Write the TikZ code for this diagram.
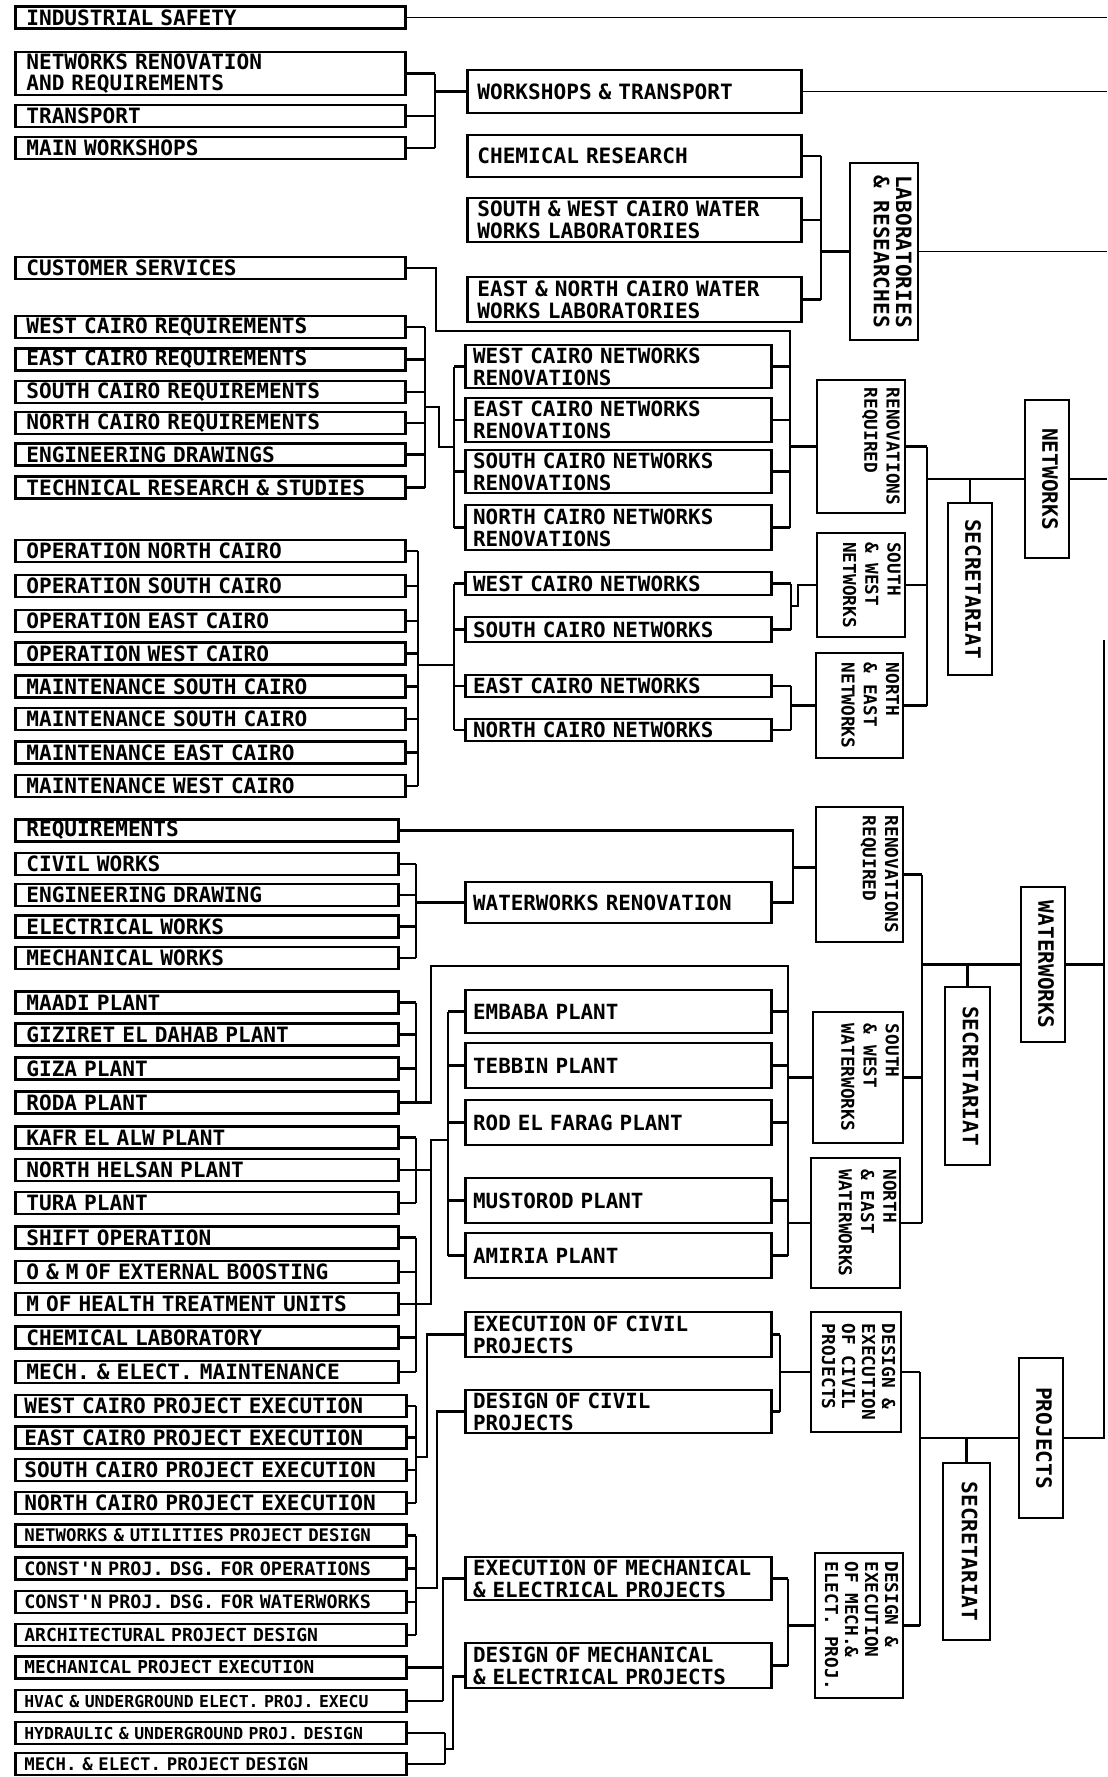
\documentclass[tikz,border=0pt]{standalone}
\usepackage{fontspec}
\usepackage{graphicx}
\setmonofont{DejaVu Sans Mono}
\newcommand{\fA}{\fontsize{9.5}{9.8}\selectfont\ttfamily\bfseries}
\newcommand{\fM}{\fontsize{9.4}{9.8}\selectfont\ttfamily\bfseries}
\newcommand{\fB}{\fontsize{8}{10}\selectfont\ttfamily\bfseries}
\newcommand{\fD}{\fontsize{8}{9}\selectfont\ttfamily\bfseries}
\newcommand{\fS}[1]{\fontsize{#1}{#1}\selectfont\ttfamily\bfseries}
\newcommand{\vt}[2][0pt]{\hspace*{#1}\rotatebox{-90}{\begin{tabular}{@{}l@{}}#2\end{tabular}}}
\begin{document}
\begin{tikzpicture}[x=0.45pt,y=-0.45pt,
 conn/.style={line width=1.1pt},
 thinl/.style={line width=0.6pt},
 lbA/.style={draw, line width=1.2pt, anchor=west, inner xsep=4.95pt, inner ysep=0pt, minimum height=9.9pt, text width=165.6pt, align=left, font=\fA},
 lbB/.style={lbA, text width=162.45pt},
 lbC/.style={lbA, inner xsep=4.05pt, text width=167.85pt},
 mA/.style={draw, line width=1.2pt, anchor=west, inner xsep=4.5pt, inner ysep=0pt, text width=141.3pt, align=left, font=\fA},
 mB/.style={mA, inner xsep=3.5pt, text width=130.7pt, font=\fM},
 rb/.style={draw, line width=1.2pt, inner sep=0pt, font=\fA},
 rs/.style={rb, font=\fB},
 rd/.style={rb, font=\fD}]
\fill[white] (0,0) rectangle (1107,1777);
\useasboundingbox (0,0) rectangle (1107,1777);
% ---------- left column ----------
\node[lbA] (is) at (14,17.5) {INDUSTRIAL SAFETY};
\node[lbA, minimum height=19.35pt] (nrq) at (14,73.5) {NETWORKS RENOVATION\\AND REQUIREMENTS};
\node[lbA] (tr) at (14,116) {TRANSPORT};
\node[lbA] (mw) at (14,148) {MAIN WORKSHOPS};
\node[lbA] (cs) at (14,268) {CUSTOMER SERVICES};
\node[lbA] (wcr) at (14,327) {WEST CAIRO REQUIREMENTS};
\node[lbA] (ecr) at (14,359.5) {EAST CAIRO REQUIREMENTS};
\node[lbA] (scr) at (14,392) {SOUTH CAIRO REQUIREMENTS};
\node[lbA] (ncr) at (14,423) {NORTH CAIRO REQUIREMENTS};
\node[lbA] (ed) at (14,454.5) {ENGINEERING DRAWINGS};
\node[lbA] (trs) at (14,487.5) {TECHNICAL RESEARCH \& STUDIES};
\node[lbA] (onc) at (14,551) {OPERATION NORTH CAIRO};
\node[lbA] (osc) at (14,586) {OPERATION SOUTH CAIRO};
\node[lbA] (oec) at (14,621) {OPERATION EAST CAIRO};
\node[lbA] (owc) at (14,653.5) {OPERATION WEST CAIRO};
\node[lbA] (msc) at (14,686.5) {MAINTENANCE SOUTH CAIRO};
\node[lbA] (msc2) at (14,719) {MAINTENANCE SOUTH CAIRO};
\node[lbA] (mec) at (14,752.5) {MAINTENANCE EAST CAIRO};
\node[lbA] (mwc) at (14,786) {MAINTENANCE WEST CAIRO};
\node[lbB] (req) at (14,830.5) {REQUIREMENTS};
\node[lbB] (cw) at (14,864) {CIVIL WORKS};
\node[lbB] (edw) at (14,895) {ENGINEERING DRAWING};
\node[lbB] (ew) at (14,926.5) {ELECTRICAL WORKS};
\node[lbB] (mwk) at (14,958) {MECHANICAL WORKS};
\node[lbB] (maadi) at (14,1002.5) {MAADI PLANT};
\node[lbB] (giz) at (14,1034.5) {GIZIRET EL DAHAB PLANT};
\node[lbB] (giza) at (14,1068.5) {GIZA PLANT};
\node[lbB] (roda) at (14,1102.5) {RODA PLANT};
\node[lbB] (kafr) at (14,1137.5) {KAFR EL ALW PLANT};
\node[lbB] (nh) at (14,1170) {NORTH HELSAN PLANT};
\node[lbB] (tura) at (14,1203) {TURA PLANT};
\node[lbB] (shift) at (14,1237.5) {SHIFT OPERATION};
\node[lbB] (oem) at (14,1272) {O \& M OF EXTERNAL BOOSTING};
\node[lbB] (mhealth) at (14,1304) {M OF HEALTH TREATMENT UNITS};
\node[lbB] (chem) at (14,1337.5) {CHEMICAL LABORATORY};
\node[lbB] (mem) at (14,1372) {MECH. \& ELECT. MAINTENANCE};
\node[lbC] (wpe) at (14,1406) {WEST CAIRO PROJECT EXECUTION};
\node[lbC] (epe) at (14,1437.5) {EAST CAIRO PROJECT EXECUTION};
\node[lbC] (spe) at (14,1470) {SOUTH CAIRO PROJECT EXECUTION};
\node[lbC] (npe) at (14,1503) {NORTH CAIRO PROJECT EXECUTION};
\node[lbC, font={\fS{7.8}}] (nud) at (14,1535.5) {NETWORKS \& UTILITIES PROJECT DESIGN};
\node[lbC, font={\fS{8.3}}] (cpo) at (14,1568.5) {CONST'N PROJ. DSG. FOR OPERATIONS};
\node[lbC, font={\fS{8.3}}] (cpw) at (14,1602) {CONST'N PROJ. DSG. FOR WATERWORKS};
\node[lbC, font={\fS{8.1}}] (apd) at (14,1635) {ARCHITECTURAL PROJECT DESIGN};
\node[lbC, font={\fS{8}}] (mpe) at (14,1667.5) {MECHANICAL PROJECT EXECUTION};
\node[lbC, font={\fS{7.4}}] (hvac) at (14,1701) {HVAC \& UNDERGROUND ELECT. PROJ. EXECU};
\node[lbC, font={\fS{7.4}}] (hyd) at (14,1733) {HYDRAULIC \& UNDERGROUND PROJ. DESIGN};
\node[lbC, font={\fS{7.8}}] (med) at (14,1764) {MECH. \& ELECT. PROJECT DESIGN};
% ---------- middle column ----------
\node[mA, minimum height=19.35pt] (wt) at (466,91.5) {WORKSHOPS \& TRANSPORT};
\node[mA, minimum height=18.9pt] (cr) at (466,156) {CHEMICAL RESEARCH};
\node[mA, minimum height=19.8pt] (swl) at (466,220) {SOUTH \& WEST CAIRO WATER\\WORKS LABORATORIES};
\node[mA, minimum height=20.25pt] (enl) at (466,299.5) {EAST \& NORTH CAIRO WATER\\WORKS LABORATORIES};
\node[mB, minimum height=19.35pt] (wnr) at (464,366.5) {WEST CAIRO NETWORKS\\RENOVATIONS};
\node[mB, minimum height=19.8pt] (enr) at (464,420) {EAST CAIRO NETWORKS\\RENOVATIONS};
\node[mB, minimum height=19.35pt] (snr) at (464,471.5) {SOUTH CAIRO NETWORKS\\RENOVATIONS};
\node[mB, minimum height=20.25pt] (nnr) at (464,527.5) {NORTH CAIRO NETWORKS\\RENOVATIONS};
\node[mB, minimum height=10.35pt] (wn) at (464,583.5) {WEST CAIRO NETWORKS};
\node[mB, minimum height=11.25pt] (sn) at (464,629.5) {SOUTH CAIRO NETWORKS};
\node[mB, minimum height=9.9pt] (en) at (464,686) {EAST CAIRO NETWORKS};
\node[mB, minimum height=9.9pt] (nn) at (464,730) {NORTH CAIRO NETWORKS};
\node[mB, minimum height=18.45pt] (wwr) at (464,902.5) {WATERWORKS RENOVATION};
\node[mB, minimum height=19.35pt] (emb) at (464,1011.5) {EMBABA PLANT};
\node[mB, minimum height=20.25pt] (teb) at (464,1065.5) {TEBBIN PLANT};
\node[mB, minimum height=20.25pt] (rod) at (464,1122.5) {ROD EL FARAG PLANT};
\node[mB, minimum height=20.25pt] (mus) at (464,1200.5) {MUSTOROD PLANT};
\node[mB, minimum height=20.25pt] (ami) at (464,1255.5) {AMIRIA PLANT};
\node[mB, minimum height=20.25pt] (eoc) at (464,1334.5) {EXECUTION OF CIVIL\\PROJECTS};
\node[mB, minimum height=19.35pt] (doc) at (464,1411.5) {DESIGN OF CIVIL\\PROJECTS};
\node[mB, minimum height=19.35pt] (eom) at (464,1578.5) {EXECUTION OF MECHANICAL\\\& ELECTRICAL PROJECTS};
\node[mB, minimum height=20.25pt] (dom) at (464,1665.5) {DESIGN OF MECHANICAL\\\& ELECTRICAL PROJECTS};
% ---------- vertical-text boxes ----------
\node[rb, minimum width=30.6pt, minimum height=79.65pt] (labs) at (884,251.5) {\vt[5pt]{LABORATORIES\\\& RESEARCHES}};
\node[rs, minimum width=39.6pt, minimum height=59.85pt] (nrr) at (861,446.5) {\vt[17pt]{RENOVATIONS\\REQUIRED}};
\node[rs, minimum width=39.6pt, minimum height=46.8pt] (snw) at (861,585) {\vt[8pt]{SOUTH\\\& WEST\\NETWORKS}};
\node[rs, minimum width=39.15pt, minimum height=47.25pt] (nen) at (859.5,705.5) {\vt[8pt]{NORTH\\\& EAST\\NETWORKS}};
\node[rb, minimum width=19.8pt, minimum height=77.4pt] (sec1) at (970,589) {\vt{SECRETARIAT}};
\node[rb, minimum width=19.8pt, minimum height=71.1pt] (nw) at (1047,479) {\vt{NETWORKS}};
\node[rs, minimum width=39.15pt, minimum height=60.75pt] (wrr) at (859.5,874.5) {\vt[17pt]{RENOVATIONS\\REQUIRED}};
\node[rb, minimum width=19.8pt, minimum height=69.75pt] (ww) at (1043,964.5) {\vt{WATERWORKS}};
\node[rs, minimum width=40.5pt, minimum height=58.95pt] (sww) at (858,1077.5) {\vt[9pt]{SOUTH\\\& WEST\\WATERWORKS}};
\node[rs, minimum width=40.05pt, minimum height=58.5pt] (new) at (855.5,1223) {\vt[9pt]{NORTH\\\& EAST\\WATERWORKS}};
\node[rb, minimum width=20.25pt, minimum height=80.1pt] (sec2) at (967.5,1076) {\vt{SECRETARIAT}};
\node[rd, minimum width=40.5pt, minimum height=54pt] (dec) at (856,1372) {\vt{DESIGN \&\\EXECUTION\\OF CIVIL\\PROJECTS}};
\node[rd, minimum width=39.6pt, minimum height=65.25pt] (dem) at (859,1625.5) {\vt{DESIGN \&\\EXECUTION\\OF MECH.\&\\ELECT. PROJ.}};
\node[rb, minimum width=19.8pt, minimum height=72pt] (pj) at (1041,1438) {\vt{PROJECTS}};
\node[rb, minimum width=21.15pt, minimum height=79.65pt] (sec3) at (966.5,1551.5) {\vt{SECRETARIAT}};
% ---------- connectors ----------
\coordinate (RE) at (1107,0);
\coordinate (RV) at (1104,640);
\draw[thinl] (is.east) -- (is.east -| RE);
\draw[thinl] (wt.east) -- (wt.east -| RE);
\draw[thinl] (labs.east) -- (labs.east -| RE);
\draw[thinl] (nw.east) -- (nw.east -| RE);
\draw[conn] (ww.east) -- (ww.east -| RV);
\draw[conn] (pj.east) -- (pj.east -| RV) -- (RV);
% G1 workshops
\coordinate (b1) at (435,0);
\foreach \n in {nrq,tr,mw} {\draw[conn] (\n.east) -- (\n.east -| b1);}
\draw[conn] (nrq.east -| b1) -- (mw.east -| b1);
\draw[conn] (wt.west -| b1) -- (wt.west);
% G2 labs
\coordinate (b2) at (821,0);
\foreach \n in {cr,swl,enl} {\draw[conn] (\n.east) -- (\n.east -| b2);}
\draw[conn] (cr.east -| b2) -- (enl.east -| b2);
\draw[conn] (labs.west -| b2) -- (labs.west);
% G3 customer services / renovations
\coordinate (b3) at (790,0);
\coordinate (cst) at (436,331);
\draw[conn] (cs.east) -| (cst) -- (cst -| b3) -- (nnr.east -| b3);
\foreach \n in {wnr,enr,snr,nnr} {\draw[conn] (\n.east) -- (\n.east -| b3);}
\draw[conn] (nrr.west -| b3) -- (nrr.west);
% G4 requirements
\coordinate (b4) at (425,0);
\coordinate (j4a) at (425,407);
\coordinate (j4b) at (439,447);
\coordinate (bL) at (454,0);
\foreach \n in {wcr,ecr,scr,ncr,ed,trs} {\draw[conn] (\n.east) -- (\n.east -| b4);}
\draw[conn] (wcr.east -| b4) -- (trs.east -| b4);
\draw[conn] (j4a) -| (j4b) -- (j4b -| bL);
\foreach \n in {wnr,enr,snr,nnr} {\draw[conn] (\n.west -| bL) -- (\n.west);}
\draw[conn] (wnr.west -| bL) -- (nnr.west -| bL);
% G5 operation / maintenance
\coordinate (b5) at (418,0);
\coordinate (j5) at (418,665);
\foreach \n in {onc,osc,oec,owc,msc,msc2,mec,mwc} {\draw[conn] (\n.east) -- (\n.east -| b5);}
\draw[conn] (onc.east -| b5) -- (mwc.east -| b5);
\draw[conn] (j5) -- (j5 -| bL);
\foreach \n in {wn,sn,en,nn} {\draw[conn] (\n.west -| bL) -- (\n.west);}
\draw[conn] (wn.west -| bL) -- (nn.west -| bL);
% G6 networks
\coordinate (b6) at (791,0);
\coordinate (j6) at (798,606);
\foreach \n in {wn,sn,en,nn} {\draw[conn] (\n.east) -- (\n.east -| b6);}
\draw[conn] (wn.east -| b6) -- (sn.east -| b6);
\draw[conn] (en.east -| b6) -- (nn.east -| b6);
\draw[conn] (j6 -| b6) -- (j6) |- (snw.west);
\draw[conn] (nen.west -| b6) -- (nen.west);
% G7 networks head
\coordinate (b7) at (927,0);
\foreach \n in {nrr,snw,nen} {\draw[conn] (\n.east) -- (\n.east -| b7);}
\draw[conn] (nrr.east -| b7) -- (nen.east -| b7);
\draw[conn] (nw.west -| b7) -- (nw.west);
\draw[conn] (sec1.north |- nw.west) -- (sec1.north);
% G8 waterworks requirements
\coordinate (b8) at (793,0);
\coordinate (w8) at ([yshift=3.15pt]wrr.west);
\draw[conn] (req.east) -- (req.east -| b8) -- (wwr.east -| b8) -- (wwr.east);
\draw[conn] (w8 -| b8) -- (w8);
% G9 civil works
\coordinate (b9) at (416,0);
\foreach \n in {cw,edw,ew,mwk} {\draw[conn] (\n.east) -- (\n.east -| b9);}
\draw[conn] (cw.east -| b9) -- (mwk.east -| b9);
\draw[conn] (wwr.west -| b9) -- (wwr.west);
% G10 waterworks head
\coordinate (b10) at (922,0);
\foreach \n in {wrr,sww,new} {\draw[conn] (\n.east) -- (\n.east -| b10);}
\draw[conn] (wrr.east -| b10) -- (new.east -| b10);
\draw[conn] (ww.west -| b10) -- (ww.west);
\draw[conn] (sec2.north |- ww.west) -- (sec2.north);
% G11 plants
\coordinate (t11) at (431,966);
\coordinate (bR) at (788,0);
\coordinate (bP) at (448,0);
\foreach \n in {maadi,giz,giza,roda} {\draw[conn] (\n.east) -- (\n.east -| b9);}
\draw[conn] (maadi.east -| b9) -- (roda.east -| b9) -- (roda.east -| t11) -- (t11) -- (t11 -| bR) -- (ami.east -| bR);
\foreach \n in {emb,teb,rod,mus,ami} {\draw[conn] (\n.east) -- (\n.east -| bR); \draw[conn] (\n.west -| bP) -- (\n.west);}
\draw[conn] (emb.west -| bP) -- (ami.west -| bP);
\draw[conn] (sww.west -| bR) -- (sww.west);
\draw[conn] (new.west -| bR) -- (new.west);
% G12 kafr / shift groups
\coordinate (t12) at (431,1140);
\foreach \n in {kafr,nh,tura,shift,oem,chem,mem} {\draw[conn] (\n.east) -- (\n.east -| b9);}
\draw[conn] (kafr.east -| b9) -- (tura.east -| b9);
\draw[conn] (shift.east -| b9) -- (mem.east -| b9);
\draw[conn] (mhealth.east) -- (mhealth.east -| t12) -- (t12) -- (t12 -| bP);
\draw[conn] (nh.east -| b9) -- (nh.east -| t12);
% G13 project execution
\coordinate (j13) at (427,1457);
\foreach \n in {wpe,epe,spe,npe} {\draw[conn] (\n.east) -- (\n.east -| b9);}
\draw[conn] (wpe.east -| b9) -- (npe.east -| b9);
\draw[conn] (j13 -| b9) -- (j13) |- (eoc.west);
% G14 project design
\coordinate (j14) at (437,1588);
\foreach \n in {nud,cpo,cpw,apd} {\draw[conn] (\n.east) -- (\n.east -| b9);}
\draw[conn] (nud.east -| b9) -- (apd.east -| b9);
\draw[conn] (j14 -| b9) -- (j14) |- (doc.west);
% G15 mech execution
\coordinate (b15) at (443,0);
\foreach \n in {mpe,hvac} {\draw[conn] (\n.east) -- (\n.east -| b15);}
\draw[conn] (eom.west) -- (eom.west -| b15) -- (hvac.east -| b15);
% G16 mech design
\coordinate (b16) at (445,0);
\coordinate (j16) at (453,1749);
\coordinate (d16) at ([yshift=-5pt]dom.west);
\foreach \n in {hyd,med} {\draw[conn] (\n.east) -- (\n.east -| b16);}
\draw[conn] (hyd.east -| b16) -- (med.east -| b16);
\draw[conn] (j16 -| b16) -- (j16) |- (d16);
% G17 civil head
\coordinate (b17) at (780,0);
\foreach \n in {eoc,doc} {\draw[conn] (\n.east) -- (\n.east -| b17);}
\draw[conn] (eoc.east -| b17) -- (doc.east -| b17);
\draw[conn] (dec.west -| b17) -- (dec.west);
% G18 mech head
\foreach \n in {eom,dom} {\draw[conn] (\n.east) -- (\n.east -| bR);}
\draw[conn] (eom.east -| bR) -- (dom.east -| bR);
\draw[conn] (dem.west -| bR) -- (dem.west);
% G19 projects head
\coordinate (b19) at (920,0);
\foreach \n in {dec,dem} {\draw[conn] (\n.east) -- (\n.east -| b19);}
\draw[conn] (dec.east -| b19) -- (dem.east -| b19);
\draw[conn] (pj.west -| b19) -- (pj.west);
\draw[conn] (sec3.north |- pj.west) -- (sec3.north);
\end{tikzpicture}
\end{document}
